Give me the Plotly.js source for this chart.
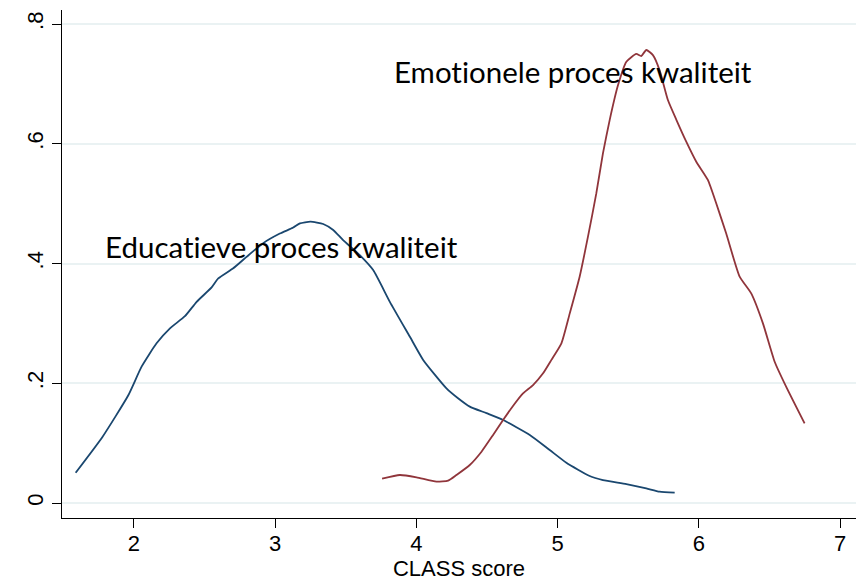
<!DOCTYPE html>
<html>
<head>
<meta charset="utf-8">
<script src="https://cdn.plot.ly/plotly-3.0.1.min.js"></script>
<style>html,body{margin:0;padding:0;background:#fff;}#chart{width:866px;height:582px;}
text{font-variant-ligatures:none;font-feature-settings:"liga" 0;}</style>
</head>
<body>
<div id="chart"></div>
<script>
var eduX = [1.587,1.778,1.960,2.054,2.160,2.255,2.361,2.444,2.550,2.597,2.703,2.797,2.915,3.033,3.128,3.175,3.250,3.340,3.411,3.481,3.599,3.694,3.812,3.953,4.048,4.213,4.295,4.378,4.496,4.614,4.803,4.944,5.062,5.227,5.321,5.487,5.628,5.722,5.829];
var eduY = [0.0506,0.1108,0.180,0.2277,0.2667,0.2917,0.312,0.336,0.360,0.375,0.392,0.411,0.434,0.450,0.460,0.467,0.470,0.466,0.456,0.439,0.414,0.389,0.336,0.278,0.239,0.1915,0.175,0.161,0.150,0.1386,0.1136,0.0885,0.0673,0.0451,0.0384,0.0317,0.0245,0.0189,0.0172];
var emoX = [3.757,3.883,4.001,4.142,4.225,4.284,4.378,4.461,4.543,4.614,4.684,4.755,4.826,4.897,4.956,5.027,5.086,5.156,5.215,5.274,5.321,5.369,5.428,5.487,5.557,5.592,5.628,5.675,5.722,5.781,5.841,5.911,5.982,6.064,6.123,6.194,6.289,6.371,6.454,6.537,6.619,6.749];
var emoY = [0.0406,0.0468,0.0429,0.0356,0.0373,0.0468,0.0635,0.0857,0.1136,0.1386,0.162,0.183,0.197,0.2166,0.239,0.2667,0.3167,0.378,0.4448,0.517,0.584,0.640,0.698,0.737,0.750,0.7465,0.7566,0.748,0.723,0.673,0.640,0.6035,0.570,0.5395,0.5005,0.450,0.378,0.350,0.300,0.236,0.194,0.133];
var xTicks = [2,3,4,5,6,7];
var yTickVals = [0,0.2,0.4,0.6,0.8];
var yTickText = ['0','.2','.4','.6','.8'];
var labels = ['Educatieve proces kwaliteit','Emotionele proces kwaliteit'];

var axisFont = {family: 'Liberation Sans, Arial, sans-serif', size: 22, color: '#000'};
var traces = [
  {x: eduX, y: eduY, mode: 'lines', line: {color: '#1a476f', width: 1.8, shape: 'spline', smoothing: 0.5}, hoverinfo: 'x+y'},
  {x: emoX, y: emoY, mode: 'lines', line: {color: '#90353b', width: 1.8, shape: 'spline', smoothing: 0.5}, hoverinfo: 'x+y'}
];
var layout = {
  width: 866, height: 582,
  margin: {l: 62, r: 10, t: 10, b: 64},
  paper_bgcolor: '#fff', plot_bgcolor: '#fff',
  showlegend: false,
  xaxis: {
    range: [1.4904, 7.113], tickvals: xTicks, ticks: 'outside', ticklen: 9, tickwidth: 1.3, tickcolor: '#000',
    ticklabelstandoff: -4,
    showgrid: false, zeroline: false, showline: true, linecolor: '#000', linewidth: 1.4,
    tickfont: axisFont,
    title: {text: 'CLASS score', font: axisFont, standoff: 2}
  },
  yaxis: {
    range: [-0.02505, 0.8234], tickvals: yTickVals, ticktext: yTickText, tickangle: -90,
    ticks: 'outside', ticklen: 9, tickwidth: 1.3, tickcolor: '#000',
    showgrid: true, gridcolor: '#eaf2f3', gridwidth: 1.5, zeroline: false,
    showline: true, linecolor: '#000', linewidth: 1.4,
    tickfont: axisFont
  },
  annotations: [
    {x: 1.78, y: 0.429, xref: 'x', yref: 'y', text: labels[0], showarrow: false, xanchor: 'left', yanchor: 'middle',
     font: {family: 'Lato, Open Sans, sans-serif', size: 29.5, color: '#000'}},
    {x: 3.826, y: 0.72, xref: 'x', yref: 'y', text: labels[1], showarrow: false, xanchor: 'left', yanchor: 'middle',
     font: {family: 'Lato, Open Sans, sans-serif', size: 29.5, color: '#000'}}
  ]
};
Plotly.newPlot('chart', traces, layout, {displayModeBar: false, responsive: false});
</script>
</body>
</html>
